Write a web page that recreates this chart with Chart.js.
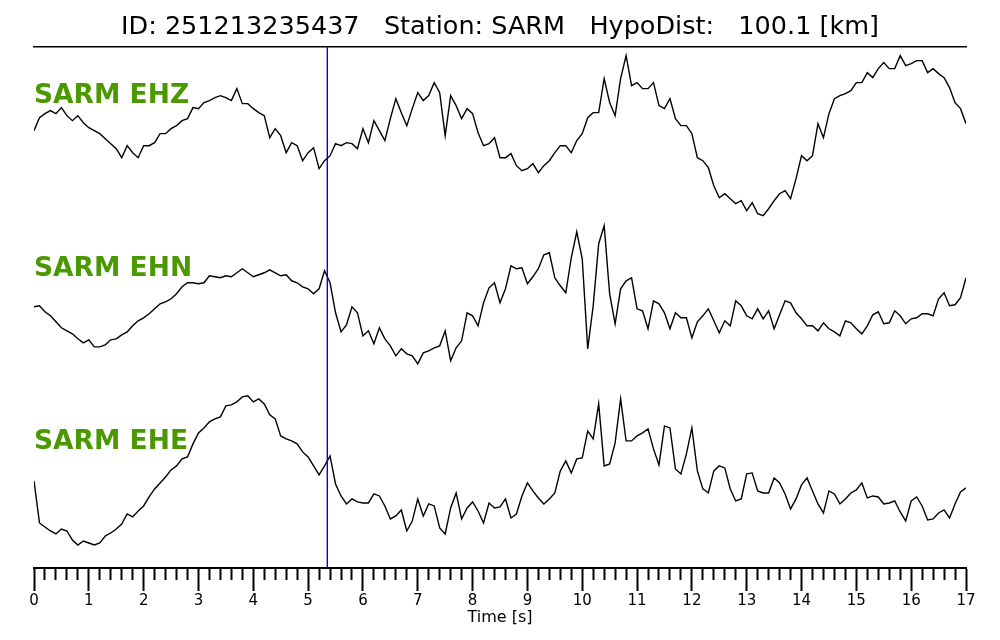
<!DOCTYPE html>
<html>
<head>
<meta charset="utf-8">
<title>SARM</title>
<script src="https://cdn.jsdelivr.net/npm/chart.js@4.4.1/dist/chart.umd.min.js"></script>
<style>
  html, body { margin: 0; padding: 0; background: #fff; }
</style>
</head>
<body>
<canvas id="sismo" width="1000" height="640"></canvas>
<script>
// sampling step of the traces (s) and P pick time
const dt = 0.1;
const pickTime = 5.35;

const title = 'ID: 251213235437   Station: SARM   HypoDist:   100.1 [km]';
const channels = ['SARM EHZ', 'SARM EHN', 'SARM EHE'];
const xTickLabels = ['0', '1', '2', '3', '4', '5', '6', '7', '8', '9', '10', '11', '12', '13', '14', '15', '16', '17'];

// amplitudes, one value per 0.1 s, from 0 to 17 s
const ehz = [
  5, 18, 22, 25, 22, 28, 20, 15, 20, 13,
  8, 5, 2, -3, -8, -13, -22, -10, -17, -22,
  -10, -10, -7, 2, 2, 7, 10, 15, 17, 28,
  27, 33, 35, 38, 40, 38, 35, 47, 32, 32,
  27, 23, 20, -2, 7, 0, -17, -7, -10, -25,
  -17, -12, -33, -25, -20, -8, -10, -7, -8, -13,
  7, -7, 15, 5, -5, 17, 37, 23, 10, 27,
  43, 35, 40, 53, 43, 0, 40, 30, 17, 27,
  22, 3, -10, -8, -2, -22, -22, -18, -30, -35,
  -33, -28, -37, -30, -25, -17, -10, -10, -17, -5,
  2, 18, 23, 23, 57, 33, 20, 57, 80, 50,
  53, 47, 47, 53, 30, 27, 37, 17, 10, 10,
  2, -22, -25, -32, -50, -62, -58, -63, -68, -65,
  -75, -67, -78, -80, -73, -65, -58, -55, -63, -43,
  -20, -25, -20, 12, -2, 22, 37, 40, 42, 45,
  53, 53, 63, 58, 67, 73, 67, 67, 80, 70,
  72, 75, 75, 63, 67, 62, 58, 48, 33, 27,
  12
];
const ehn = [
  -8, -7, -13, -17, -23, -29, -32, -35, -40, -44,
  -41, -48, -48, -46, -41, -40, -36, -33, -27, -22,
  -19, -15, -10, -5, -3, 0, 5, 12, 16, 16,
  15, 16, 23, 22, 21, 23, 22, 26, 30, 26,
  22, 24, 26, 29, 26, 23, 24, 18, 16, 12,
  10, 5, 10, 28, 16, -14, -33, -26, -8, -14,
  -37, -32, -45, -29, -40, -47, -57, -50, -55, -57,
  -65, -54, -52, -49, -47, -32, -62, -49, -42, -14,
  -17, -27, -4, 11, 16, -4, 10, 33, 30, 31,
  15, 22, 30, 44, 46, 21, 13, 6, 41, 67,
  40, -50, -7, 55, 73, 5, -25, 10, 18, 21,
  -10, -12, -30, -2, -5, -14, -30, -14, -19, -19,
  -39, -23, -17, -10, -22, -34, -22, -27, -2, -7,
  -17, -20, -10, -20, -12, -30, -16, -2, -4, -14,
  -20, -27, -27, -32, -24, -30, -33, -37, -22, -24,
  -30, -35, -27, -16, -13, -25, -24, -12, -17, -25,
  -20, -19, -15, -15, -17, 0, 6, -7, -6, 1,
  21
];
const ehe = [
  -8, -50, -54, -58, -61, -56, -58, -67, -72, -68,
  -70, -72, -70, -63, -60, -56, -51, -41, -44, -38,
  -33, -24, -16, -10, -4, 3, 7, 14, 16, 29,
  40, 45, 51, 54, 56, 67, 68, 71, 76, 77,
  71, 74, 69, 58, 54, 37, 34, 32, 29, 21,
  16, 7, -2, 7, 17, -11, -23, -31, -26, -29,
  -30, -30, -21, -23, -33, -46, -43, -37, -58, -48,
  -26, -43, -31, -33, -55, -61, -35, -20, -46, -35,
  -29, -38, -50, -30, -35, -34, -26, -45, -41, -23,
  -10, -18, -25, -31, -26, -20, 2, 12, 0, 14,
  15, 42, 34, 69, 7, 9, 30, 74, 32, 32,
  37, 40, 44, 24, 8, 47, 45, 4, -1, 19,
  45, 2, -16, -20, 2, 7, 5, -16, -28, -26,
  -1, 0, -18, -20, -20, -5, -10, -21, -36, -26,
  -12, -5, -18, -31, -40, -18, -21, -31, -26, -20,
  -17, -10, -25, -23, -24, -31, -30, -28, -39, -48,
  -28, -24, -33, -47, -46, -40, -37, -45, -31, -19,
  -15
];
const traces = [ehz, ehn, ehe];

function toPoints(arr) {
  return arr.map((v, i) => ({ x: i * dt, y: v }));
}

function isWhole(v) {
  return Math.abs(v - Math.round(v)) < 1e-6;
}

const datasets = [{
  data: [{ x: pickTime, y: 0 }, { x: pickTime, y: 1 }],
  yAxisID: 'yPick',
  borderColor: '#0000ff',
  borderWidth: 1.4,
  pointRadius: 0,
  order: 0
}];
traces.forEach((tr, i) => {
  datasets.push({
    data: toPoints(tr),
    yAxisID: 'y' + i,
    borderColor: '#000',
    borderWidth: 1.4,
    pointRadius: 0,
    tension: 0,
    order: 1
  });
});

// channel names, written just above each trace
const channelNames = {
  id: 'channelNames',
  afterDatasetsDraw(chart) {
    const ctx = chart.ctx;
    const left = chart.chartArea.left;
    const baseAmp = [33, 23, 24];
    ctx.save();
    ctx.font = 'bold 26.5px "DejaVu Sans"';
    ctx.fillStyle = '#4a9900';
    ctx.textAlign = 'left';
    ctx.textBaseline = 'alphabetic';
    channels.forEach((name, i) => {
      ctx.fillText(name, left, chart.scales['y' + i].getPixelForValue(baseAmp[i]));
    });
    ctx.restore();
  }
};

new Chart(document.getElementById('sismo'), {
  type: 'line',
  data: { datasets: datasets },
  options: {
    responsive: false,
    animation: false,
    events: [],
    layout: { padding: { left: 34, right: 34, top: 0, bottom: 14 } },
    plugins: {
      legend: { display: false },
      tooltip: { enabled: false },
      title: {
        display: true,
        text: title,
        color: '#000',
        font: { family: 'DejaVu Sans', size: 25.5, weight: 'normal' },
        padding: { top: 12, bottom: 4 }
      }
    },
    scales: {
      x: {
        type: 'linear',
        position: 'bottom',
        min: 0,
        max: 17,
        ticks: {
          stepSize: 0.2,
          autoSkip: false,
          maxRotation: 0,
          padding: 3,
          color: '#000',
          font: { family: 'DejaVu Sans', size: 15, lineHeight: 1 },
          callback: v => isWhole(v) ? xTickLabels[Math.round(v)] : ''
        },
        grid: {
          drawOnChartArea: false,
          drawTicks: true,
          tickLength: 23,
          tickWidth: 2,
          tickColor: '#000',
          tickBorderDash: c => (c.tick && isWhole(c.tick.value)) ? [] : [11, 40]
        },
        border: { display: true, color: '#000', width: 2 },
        title: {
          display: true,
          text: 'Time [s]',
          color: '#000',
          font: { family: 'DejaVu Sans', size: 16, lineHeight: 1 },
          padding: { top: -2, bottom: 0 }
        }
      },
      xTop: {
        type: 'linear',
        position: 'top',
        min: 0,
        max: 17,
        ticks: { display: false },
        grid: { display: false, drawTicks: false },
        border: { display: true, color: '#000', width: 1.5 }
      },
      // each trace sits in its own band of the plot
      y0: { display: false, min: -432, max: 89 },
      y1: { display: false, min: -269, max: 252 },
      y2: { display: false, min: -95, max: 426 },
      yPick: { display: false, min: 0, max: 1 }
    }
  },
  plugins: [channelNames]
});
</script>
</body>
</html>
